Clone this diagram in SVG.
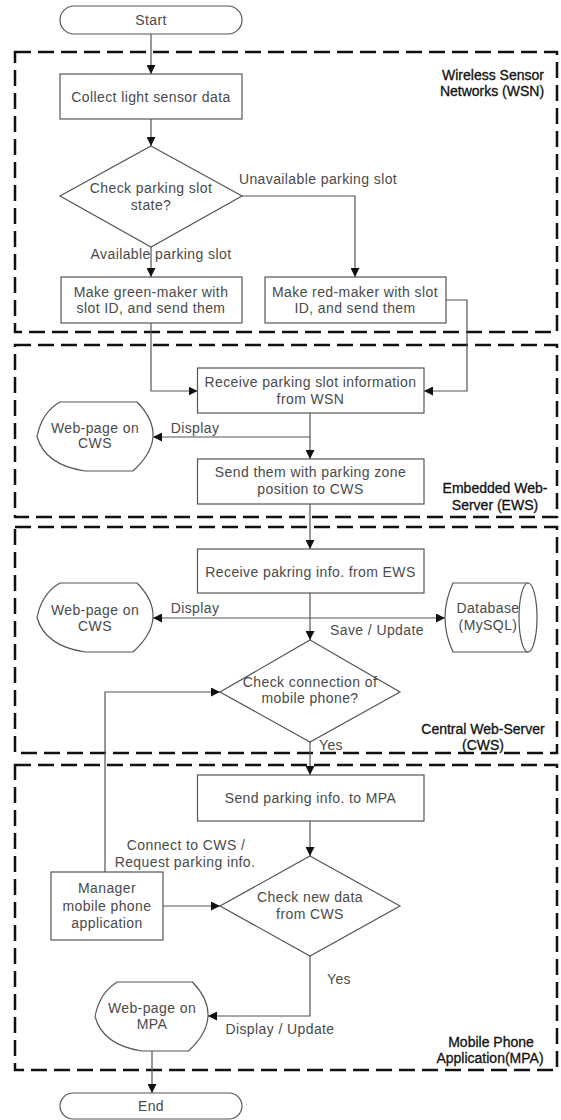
<svg xmlns="http://www.w3.org/2000/svg" width="561" height="1120" viewBox="0 0 561 1120">
<style>
.bg{fill:#fff}
.n{fill:#fff;stroke:#555;stroke-width:1.2}
.t{font-family:"Liberation Sans",Arial,sans-serif;font-size:14px;fill:#4a4a4a;text-anchor:middle;dominant-baseline:central;letter-spacing:0.4px}
.tl{font-family:"Liberation Sans",Arial,sans-serif;font-size:14px;fill:#111;stroke:#111;stroke-width:0.3;text-anchor:middle;dominant-baseline:central}
.zone{fill:none;stroke:#111;stroke-width:2.5;stroke-dasharray:16 7}
.c{fill:none;stroke:#555;stroke-width:1.2}
</style>
<defs>
<marker id="ah" viewBox="0 0 10 10" refX="10" refY="5" markerWidth="9" markerHeight="9" markerUnits="userSpaceOnUse" orient="auto-start-reverse">
<path d="M0,0 L10,5 L0,10 z" fill="#111"/>
</marker>
<path id="disp" d="M23,0 L100,0 Q134,34.5 96,69 L48,69 Q8,63 0,34.5 Q5,10 23,0 Z"/>
</defs>
<rect class="bg" x="0" y="0" width="561" height="1120"/>

<g id="zones">
<rect id="zone-wsn" class="zone" x="15" y="52" width="542" height="280"/>
<text class="tl" x="493" y="75">Wireless Sensor</text>
<text class="tl" x="492" y="91">Networks (WSN)</text>
<rect id="zone-ews" class="zone" x="15" y="345" width="542" height="172"/>
<text class="tl" x="495" y="488">Embedded Web-</text>
<text class="tl" x="495" y="505">Server (EWS)</text>
<rect id="zone-cws" class="zone" x="15" y="527" width="542" height="226"/>
<text class="tl" x="483" y="729">Central Web-Server</text>
<text class="tl" x="483" y="745">(CWS)</text>
<rect id="zone-mpa" class="zone" x="15" y="765" width="542" height="305"/>
<text class="tl" x="491" y="1042">Mobile Phone</text>
<text class="tl" x="490" y="1058">Application(MPA)</text>
</g>

<g id="connectors">
<path class="c" d="M151,34 V74" marker-end="url(#ah)"/>
<path class="c" d="M151,119 V146" marker-end="url(#ah)"/>
<path class="c" d="M242,196 H355 V277" marker-end="url(#ah)"/>
<path class="c" d="M151,247 V277" marker-end="url(#ah)"/>
<path class="c" d="M151,323 V391 H197.5" marker-end="url(#ah)"/>
<path class="c" d="M446,300 H467 V391 H424" marker-end="url(#ah)"/>
<path class="c" d="M310,413 V459" marker-end="url(#ah)"/>
<path class="c" d="M310,437 H153" marker-end="url(#ah)"/>
<path class="c" d="M310,504 V549" marker-end="url(#ah)"/>
<path class="c" d="M153,618 H445" marker-start="url(#ah)" marker-end="url(#ah)"/>
<path class="c" d="M310,593 V640" marker-end="url(#ah)"/>
<path class="c" d="M105,872 V692 H220" marker-end="url(#ah)"/>
<path class="c" d="M310,742 V775" marker-end="url(#ah)"/>
<path class="c" d="M310,821 V856" marker-end="url(#ah)"/>
<path class="c" d="M163,906 H220" marker-end="url(#ah)"/>
<path class="c" d="M310,956 V1016 H208" marker-end="url(#ah)"/>
<path class="c" d="M152,1051 V1093" marker-end="url(#ah)"/>
<text class="t" x="318" y="179">Unavailable parking slot</text>
<text class="t" x="161" y="254">Available parking slot</text>
<text class="t" x="195" y="428">Display</text>
<text class="t" x="195" y="608">Display</text>
<text class="t" x="377" y="630">Save / Update</text>
<text class="t" x="331" y="745">Yes</text>
<text class="t" x="186" y="845">Connect to CWS /</text>
<text class="t" x="185" y="862">Request parking info.</text>
<text class="t" x="339" y="979">Yes</text>
<text class="t" x="280" y="1029">Display / Update</text>
</g>

<g id="start">
<rect class="n" x="60" y="6" width="182" height="28" rx="14"/>
<text class="t" x="151" y="20">Start</text>
</g>
<g id="collect">
<rect class="n" x="60" y="74" width="182" height="45"/>
<text class="t" x="151" y="97">Collect light sensor data</text>
</g>
<g id="check-slot">
<path class="n" d="M151,146 L242,196 L151,247 L60,196 Z"/>
<text class="t" x="151" y="188">Check parking slot</text>
<text class="t" x="151" y="205">state?</text>
</g>
<g id="green">
<rect class="n" x="61" y="277" width="181" height="46"/>
<text class="t" x="151" y="292">Make green-maker with</text>
<text class="t" x="151" y="308">slot ID, and send them</text>
</g>
<g id="red">
<rect class="n" x="265" y="277" width="181" height="46"/>
<text class="t" x="355" y="292">Make red-maker with slot</text>
<text class="t" x="355" y="308">ID, and send them</text>
</g>
<g id="receive-wsn">
<rect class="n" x="197.5" y="368" width="226.5" height="45"/>
<text class="t" x="310.5" y="382">Receive parking slot information</text>
<text class="t" x="310.5" y="399">from WSN</text>
</g>
<g id="web-ews">
<use href="#disp" class="n" x="37" y="402"/>
<text class="t" x="95" y="428">Web-page on</text>
<text class="t" x="95" y="443">CWS</text>
</g>
<g id="send-cws">
<rect class="n" x="197.5" y="459" width="226.5" height="45"/>
<text class="t" x="310.5" y="472">Send them with parking zone</text>
<text class="t" x="310.5" y="489">position to CWS</text>
</g>
<g id="receive-ews">
<rect class="n" x="197.5" y="549" width="226.5" height="44"/>
<text class="t" x="310.5" y="572">Receive pakring info. from EWS</text>
</g>
<g id="web-cws">
<use href="#disp" class="n" x="37" y="583"/>
<text class="t" x="95" y="610">Web-page on</text>
<text class="t" x="95" y="626">CWS</text>
</g>
<g id="database">
<path class="n" d="M453,583 L528,583 L528,652 L453,652 Q437,617.5 453,583 Z"/>
<ellipse class="n" cx="528" cy="617.5" rx="9" ry="34.5"/>
<text class="t" x="488" y="608">Database</text>
<text class="t" x="488" y="625">(MySQL)</text>
</g>
<g id="check-conn">
<path class="n" d="M310,640 L400,692 L310,742 L220,692 Z"/>
<text class="t" x="310" y="682">Check connection of</text>
<text class="t" x="310" y="698">mobile phone?</text>
</g>
<g id="send-mpa">
<rect class="n" x="197.5" y="775" width="226.5" height="46"/>
<text class="t" x="310.5" y="798">Send parking info. to MPA</text>
</g>
<g id="check-new">
<path class="n" d="M310,856 L400,906 L310,956 L220,906 Z"/>
<text class="t" x="310" y="897">Check new data</text>
<text class="t" x="310" y="914">from CWS</text>
</g>
<g id="manager">
<rect class="n" x="51" y="872" width="112" height="68"/>
<text class="t" x="107" y="888">Manager</text>
<text class="t" x="107" y="906">mobile phone</text>
<text class="t" x="107" y="923">application</text>
</g>
<g id="web-mpa">
<use href="#disp" class="n" x="95" y="982" transform="translate(95 982) scale(0.974 1) translate(-95 -982)"/>
<text class="t" x="152" y="1008">Web-page on</text>
<text class="t" x="152" y="1024">MPA</text>
</g>
<g id="end">
<rect class="n" x="60" y="1093" width="182" height="26" rx="13"/>
<text class="t" x="151" y="1106">End</text>
</g>
</svg>
